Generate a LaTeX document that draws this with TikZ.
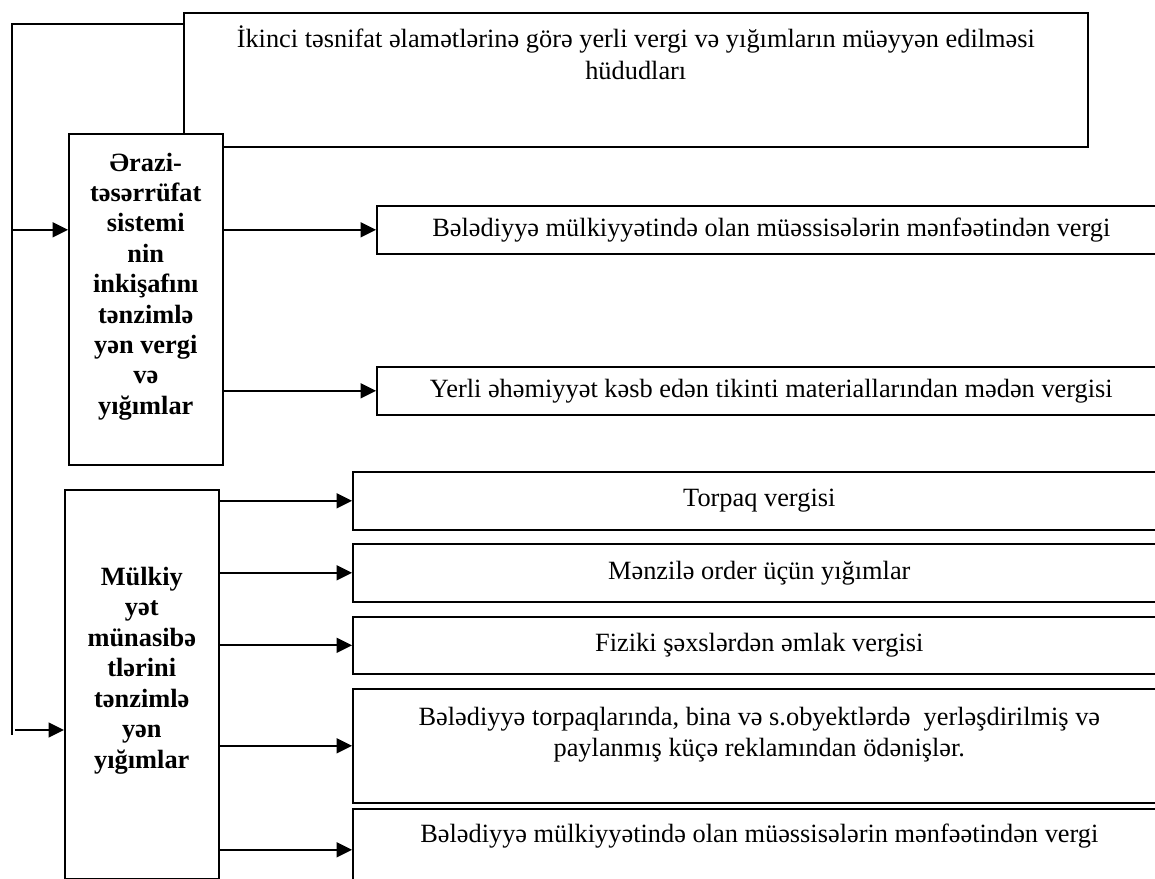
\documentclass[tikz,border=0pt]{standalone}
\usepackage{fontspec}
\setmainfont{Liberation Serif}
\usetikzlibrary{arrows.meta,positioning,calc}

\begin{document}
\begin{tikzpicture}[x=0.2mm,y=-0.2mm]

\tikzset{taxbox/.style={draw,line width=0.9pt,fill=white,inner sep=0pt,anchor=north west,font=\fontsize{15}{18}\selectfont},
kindbox/.style={taxbox,font=\fontsize{15}{17.3}\selectfont\bfseries},
feed/.style={line width=1pt,-{Triangle[length=3.1mm,width=3mm]}}}

\useasboundingbox (0,0) rectangle (1155,879);
\clip (0,0) rectangle (1155,879);

% header box
\node[taxbox] (head) at (183,12) {\parbox[c][26.8mm][t]{180.8mm}{\vspace*{2.6mm}\centering İkinci təsnifat əlamətlərinə görə yerli vergi və yığımların müəyyən edilməsi\\ hüdudları}};

% left boxes
\node[kindbox] (orazi) at (68,133) {\parbox[c][66.2mm][t]{30.8mm}{\vspace*{3.8mm}\centering Ərazi-\\ təsərrüfat\\ sistemi\\ nin\\ inkişafını\\ tənzimlə\\ yən vergi\\ və\\ yığımlar}};
\node[kindbox] (mulk) at (64,489) {\parbox[c][77.8mm][t]{30.8mm}{\vspace*{15.5mm}\centering Mülkiy\\ yət\\ münasibə\\ tlərini\\ tənzimlə\\ yən\\ yığımlar}};

% right boxes
\node[taxbox,minimum width=157.8mm,minimum height=9.6mm] (r1) at (376,205) {Bələdiyyə mülkiyyətində olan müəssisələrin mənfəətindən vergi};
\node[taxbox,minimum width=157.8mm,minimum height=9.6mm] (r2) at (376,366) {Yerli əhəmiyyət kəsb edən tikinti materiallarından mədən vergisi};
\node[taxbox,minimum width=162.6mm,minimum height=11.6mm] (t1) at (352,471) {Torpaq vergisi};
\node[taxbox,minimum width=162.6mm,minimum height=11.6mm] (t2) at (352,543) {Mənzilə order üçün yığımlar};
\node[taxbox,minimum width=162.6mm,minimum height=11.4mm] (t3) at (352,616) {Fiziki şəxslərdən əmlak vergisi};
\node[taxbox] (t4) at (352,688) {\parbox[c][22.8mm][t]{162.6mm}{\vspace*{3.6mm}\centering Bələdiyyə torpaqlarında, bina və s.obyektlərdə \ yerləşdirilmiş və\\ paylanmış küçə reklamından ödənişlər.}};
\node[taxbox] (t5) at (352,808) {\parbox[c][16.4mm][t]{162.6mm}{\vspace*{3mm}\centering Bələdiyyə mülkiyyətində olan müəssisələrin mənfəətindən vergi}};

% feedback line
\coordinate (bendTop) at (12,24);
\coordinate (bendLow) at (12,735);
\coordinate (feedLow) at (15,730);
\draw[line width=0.9pt] (bendTop -| head.west) -- (bendTop) -- (bendLow);
\draw[feed] (bendTop |- r1.west) -- (r1.west -| orazi.west);
\draw[feed] (feedLow) -- (feedLow -| mulk.west);

% arrows to the taxes
\draw[feed] (r1.west -| orazi.east) -- (r1.west);
\draw[feed] (r2.west -| orazi.east) -- (r2.west);
\foreach \t in {t1,t2,t3,t4,t5} \draw[feed] (\t.west -| mulk.east) -- (\t.west);

\end{tikzpicture}
\end{document}
